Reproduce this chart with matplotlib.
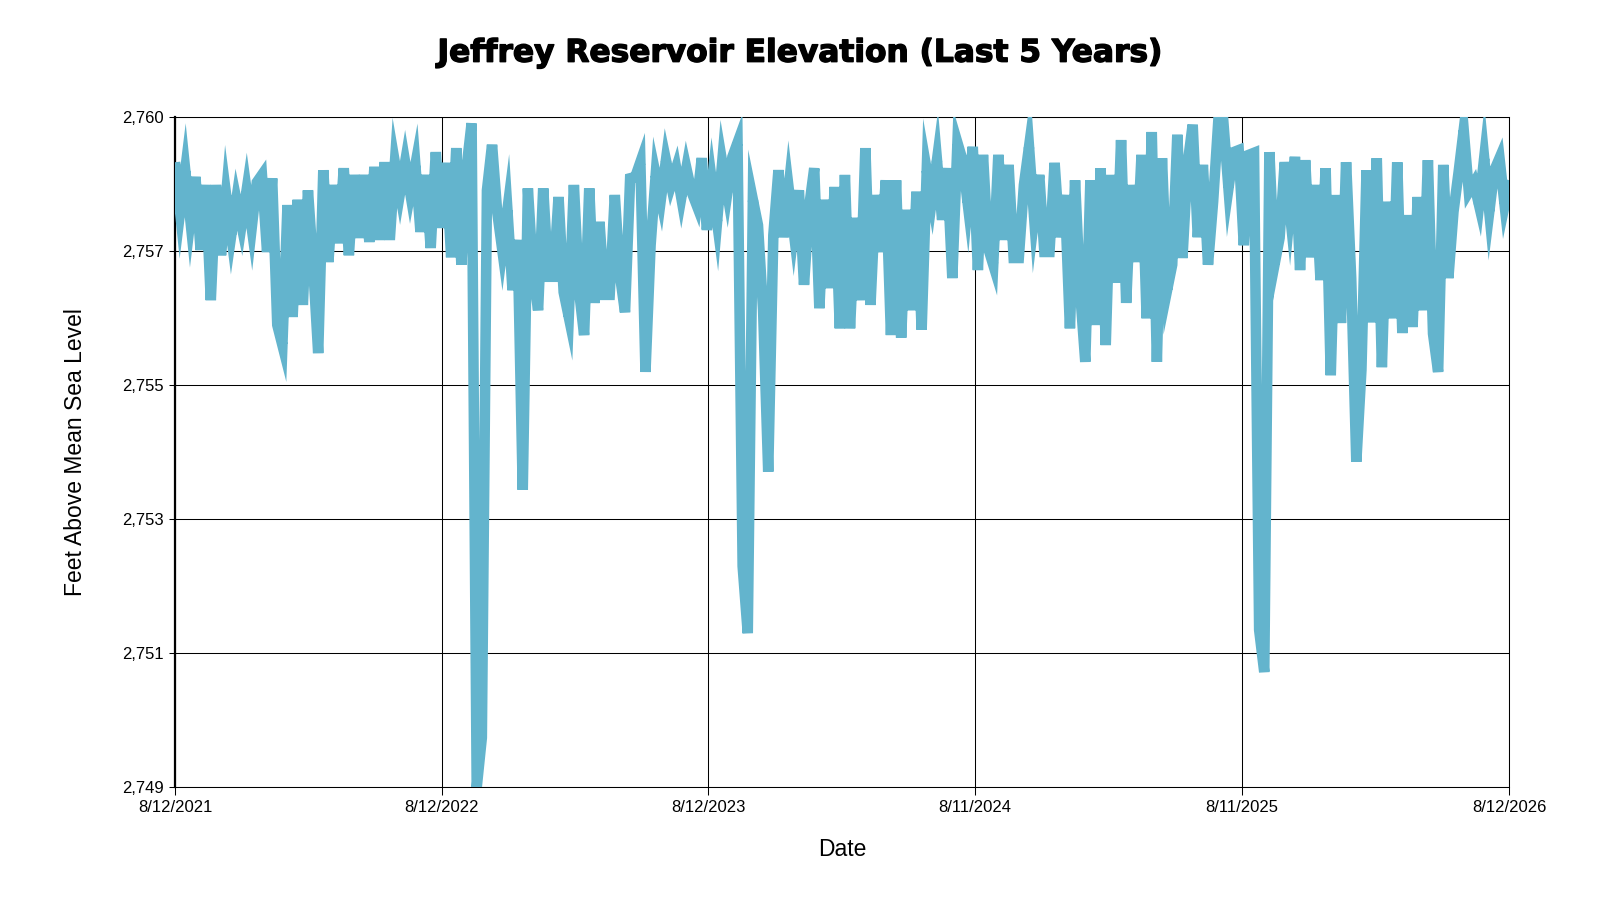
import matplotlib
matplotlib.use("Agg")
import matplotlib.pyplot as plt
import matplotlib.patheffects as pe
import pandas as pd
import numpy as np

plt.rcParams['font.family'] = ['Liberation Sans', 'DejaVu Sans']

# ---- data (weekly readings, feet above mean sea level) ----
start_date = "2021-08-12"
elevation = [
    2758.33, 2757.59, 2758.21, 2757.47, 2758.11, 2757.02, 2757.99, 2756.27, 2757.99, 2756.94,
    2757.84, 2757.24, 2757.77, 2757.39, 2757.91, 2757.35, 2758.03, 2758.14, 2756.99, 2758.09,
    2755.90, 2755.60, 2757.69, 2756.02, 2757.77, 2756.20, 2757.91, 2756.80, 2755.48, 2758.21,
    2756.84, 2757.99, 2757.12, 2758.24, 2756.94, 2758.14, 2757.20, 2758.14, 2757.14, 2758.26,
    2757.17, 2758.33, 2757.17, 2758.32, 2757.87, 2758.33, 2757.87, 2758.29, 2757.29, 2758.14,
    2757.05, 2758.48, 2757.35, 2758.32, 2756.91, 2758.54, 2756.80, 2758.24, 2758.91, 2749.00,
    2749.74, 2757.91, 2758.59, 2757.59, 2757.02, 2757.62, 2756.42, 2757.17, 2753.44, 2757.94,
    2756.69, 2756.12, 2757.94, 2756.62, 2756.62, 2757.81, 2756.39, 2756.02, 2757.99, 2756.42,
    2755.75, 2757.94, 2756.23, 2757.44, 2756.35, 2756.35, 2757.84, 2756.65, 2756.09, 2758.09,
    2758.11, 2758.33, 2755.20, 2757.09, 2758.14, 2757.77, 2758.36, 2757.99, 2758.24, 2757.80,
    2758.24, 2757.89, 2757.69, 2758.39, 2757.32, 2758.03, 2757.44, 2758.33, 2757.87, 2758.41,
    2758.62, 2752.30, 2751.30, 2757.77, 2757.39, 2756.12, 2753.71, 2757.24, 2758.21, 2757.21,
    2757.94, 2757.29, 2757.91, 2756.50, 2757.66, 2758.24, 2756.15, 2757.77, 2756.45, 2757.96,
    2755.85, 2758.14, 2755.85, 2757.50, 2756.27, 2758.54, 2756.20, 2757.84, 2756.99, 2758.06,
    2755.75, 2758.06, 2755.71, 2757.62, 2756.12, 2757.89, 2755.83, 2758.21, 2757.77, 2758.36,
    2757.47, 2758.24, 2756.60, 2758.62, 2758.36, 2757.72, 2758.56, 2756.72, 2758.44, 2757.05,
    2756.80, 2758.44, 2757.17, 2758.29, 2756.90, 2756.90, 2757.99, 2758.56, 2757.50, 2758.14,
    2756.99, 2756.99, 2758.32, 2757.21, 2757.84, 2755.85, 2758.06, 2756.39, 2755.35, 2758.06,
    2755.90, 2758.24, 2755.60, 2758.14, 2756.53, 2758.66, 2756.23, 2757.99, 2756.84, 2758.44,
    2756.00, 2758.78, 2755.35, 2758.39, 2756.42, 2756.80, 2758.74, 2756.90, 2758.29, 2758.89,
    2757.21, 2758.29, 2756.80, 2757.74, 2758.93, 2758.93, 2757.94, 2758.48, 2758.51, 2757.09,
    2758.44, 2758.47, 2751.35, 2750.72, 2758.48, 2756.80, 2757.20, 2758.33, 2757.59, 2758.41,
    2756.72, 2758.36, 2756.91, 2757.99, 2756.57, 2758.24, 2755.15, 2757.84, 2755.93, 2758.33,
    2756.60, 2753.86, 2755.23, 2758.21, 2755.94, 2758.39, 2755.27, 2757.74, 2756.00, 2758.33,
    2755.78, 2757.54, 2755.87, 2757.81, 2756.12, 2758.36, 2755.77, 2755.20, 2758.29, 2756.60,
    2757.59, 2758.18, 2758.81, 2757.89, 2758.02, 2757.69, 2758.39, 2757.59, 2758.21, 2758.39,
    2757.69, 2758.06,
]
dates = pd.date_range(start_date, periods=len(elevation), freq="7D")

x_tick_dates = ["2021-08-12", "2022-08-12", "2023-08-12", "2024-08-11", "2025-08-11", "2026-08-12"]
x_tick_labels = ["8/12/2021", "8/12/2022", "8/12/2023", "8/11/2024", "8/11/2025", "8/12/2026"]
y_tick_values = [2749, 2751, 2753, 2755, 2757, 2759]
y_tick_labels = ["2,749", "2,751", "2,753", "2,755", "2,757", "2,760"]

title = "Jeffrey Reservoir Elevation (Last 5 Years)"
x_label = "Date"
y_label = "Feet Above Mean Sea Level"
line_color = "#63b4cd"

# ---- figure ----
fig = plt.figure(figsize=(16, 9), dpi=100)
ax = fig.add_axes([175 / 1600, 1 - 787.3 / 900, 1334 / 1600, 670 / 900])

ax.plot(dates, elevation, color=line_color, linewidth=7.6,
        solid_joinstyle="miter", solid_capstyle="butt", zorder=3)

ax.set_xlim(pd.Timestamp(x_tick_dates[0]), pd.Timestamp(x_tick_dates[-1]))
ax.set_ylim(y_tick_values[0], y_tick_values[-1])

ax.set_xticks([pd.Timestamp(d) for d in x_tick_dates])
ax.set_xticklabels(x_tick_labels)
ax.set_yticks(y_tick_values)
ax.set_yticklabels(y_tick_labels)

ax.grid(True, color="black", linewidth=0.75, zorder=1)
ax.set_axisbelow(True)
for s in ax.spines.values():
    s.set_color("black")
    s.set_linewidth(0.75)
ax.spines["left"].set_linewidth(1.6)

ax.tick_params(axis="x", length=6, width=0.75, pad=3, labelsize=12, colors="black")
ax.tick_params(axis="y", length=4.5, width=0.75, pad=3.5, labelsize=12, colors="black")

fig.text(0.5, 1 - 61.7 / 900, title, ha="center", va="baseline",
         fontsize=22.5, fontweight="bold", color="black", family=["DejaVu Sans"],
         path_effects=[pe.withStroke(linewidth=1.0, foreground="black")])
fig.text(842 / 1600, 1 - 849 / 900, x_label, ha="center", va="center", fontsize=16.5)
fig.text(76 / 1600, 1 - 452 / 900, y_label, ha="center", va="center",
         rotation=90, fontsize=16.5)

fig.savefig("out.png", dpi=100)
